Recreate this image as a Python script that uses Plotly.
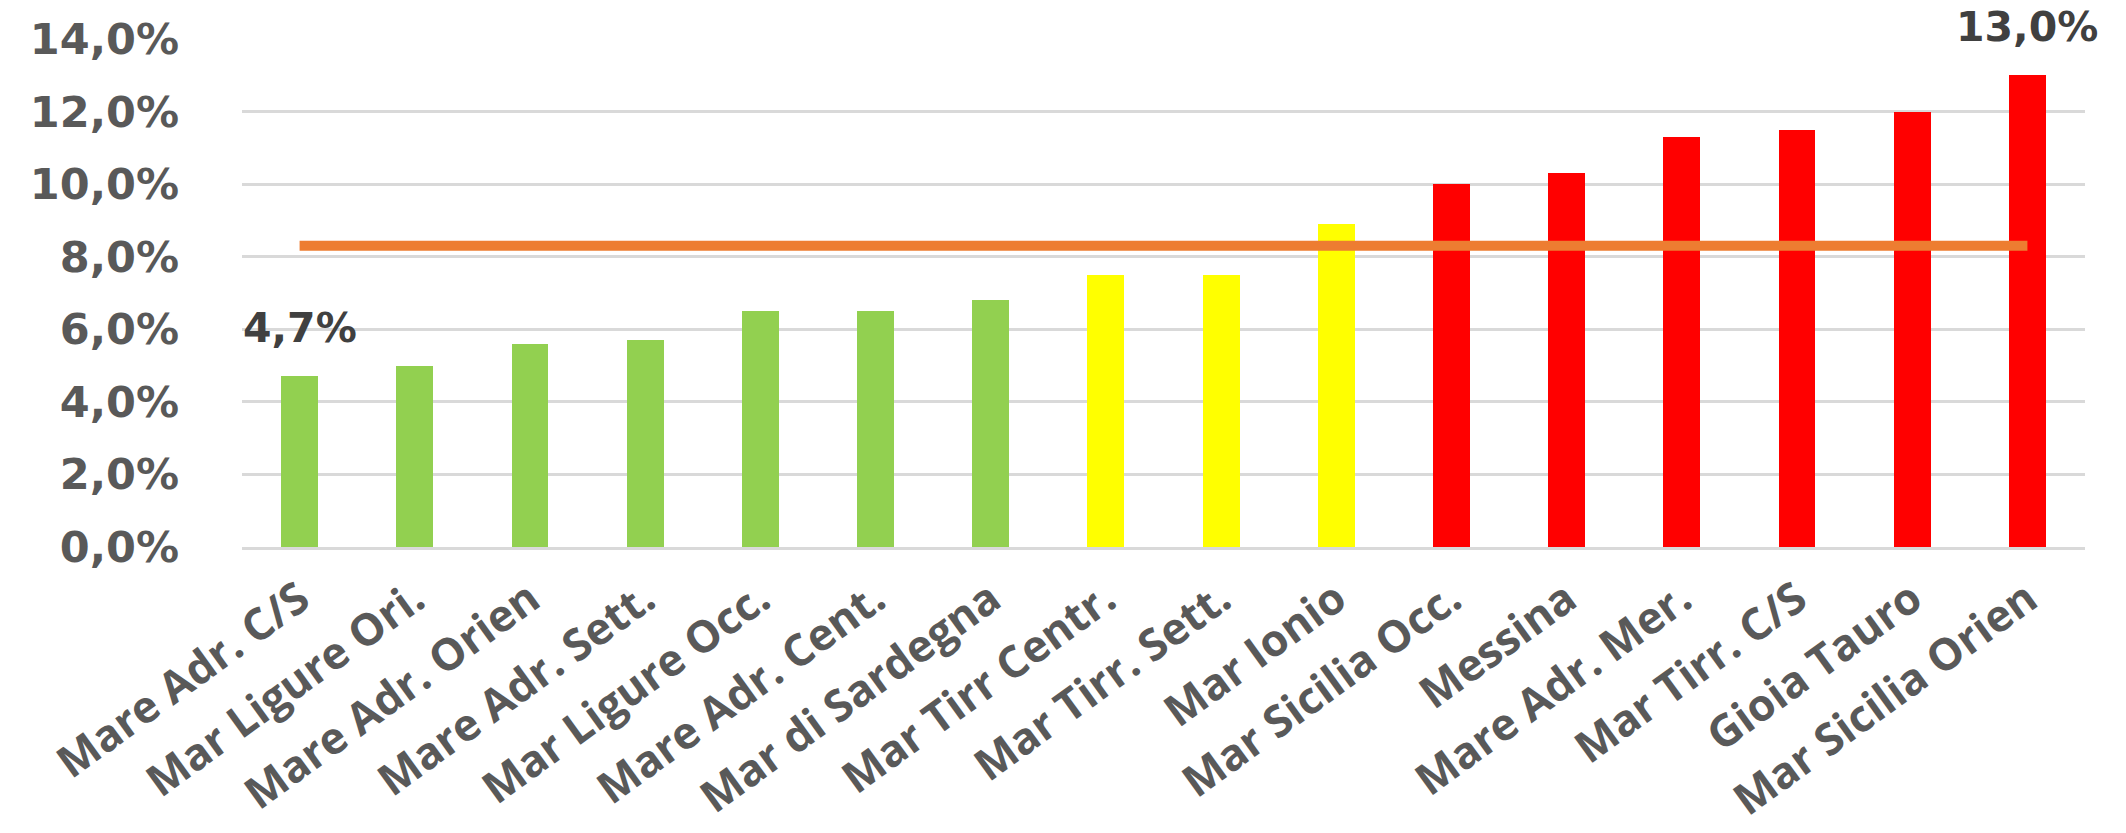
import plotly.graph_objects as go

categories = ["Mare Adr. C/S", "Mar Ligure Ori.", "Mare Adr. Orien", "Mare Adr. Sett.",
              "Mar Ligure Occ.", "Mare Adr. Cent.", "Mar di Sardegna", "Mar Tirr Centr.",
              "Mar Tirr. Sett.", "Mar Ionio", "Mar Sicilia Occ.", "Messina",
              "Mare Adr. Mer.", "Mar Tirr. C/S", "Gioia Tauro", "Mar Sicilia Orien"]
values = [4.7, 5.0, 5.6, 5.7, 6.5, 6.5, 6.8, 7.5, 7.5, 8.9, 10.0, 10.3, 11.3, 11.5, 12.0, 13.0]
bar_colors = ["#92D050"] * 7 + ["#FFFF00"] * 3 + ["#FF0000"] * 6
average = [8.3, 8.3, 8.3, 8.3, 8.3, 8.3, 8.3, 8.3, 8.3, 8.3, 8.3, 8.3, 8.3, 8.3, 8.3, 8.3]
tick_vals = [0, 2, 4, 6, 8, 10, 12, 14]
tick_text = ["0,0%", "2,0%", "4,0%", "6,0%", "8,0%", "10,0%", "12,0%", "14,0%"]
labelled = {0: "4,7%", 15: "13,0%"}

fig = go.Figure()
fig.add_trace(go.Bar(x=categories, y=values, marker=dict(color=bar_colors, line=dict(width=0)),
                     width=0.32, hoverinfo="skip"))
fig.add_trace(go.Scatter(x=categories, y=average, mode="lines",
                         line=dict(color="#ED7D31", width=10), hoverinfo="skip"))

for i, txt in labelled.items():
    fig.add_annotation(x=categories[i], y=values[i], text=txt, showarrow=False,
                       yanchor="middle", yshift=48,
                       font=dict(family="DejaVu Sans", size=41, color="#404040", weight="bold"))

fig.update_layout(
    width=2126, height=833,
    margin=dict(l=242, r=41, t=39, b=286, autoexpand=False),
    paper_bgcolor="white", plot_bgcolor="white",
    showlegend=False, bargap=0,
)
fig.update_yaxes(range=[0, 14], tickvals=tick_vals, ticktext=tick_text, automargin=False,
                 showgrid=True, gridcolor="#D9D9D9", gridwidth=3,
                 zeroline=False, showline=False, ticks="", ticklabelstandoff=62,
                 tickfont=dict(family="DejaVu Sans", size=43, color="#595959", weight="bold"))
fig.update_xaxes(range=[-0.5, 15.5], automargin=False, tickangle=-36, showgrid=False,
                 showline=True, linecolor="#D9D9D9", linewidth=3,
                 ticks="", ticklabelstandoff=6,
                 tickfont=dict(family="Open Sans", size=44, color="#595959", weight="bold"))

fig.write_html("out.html")
